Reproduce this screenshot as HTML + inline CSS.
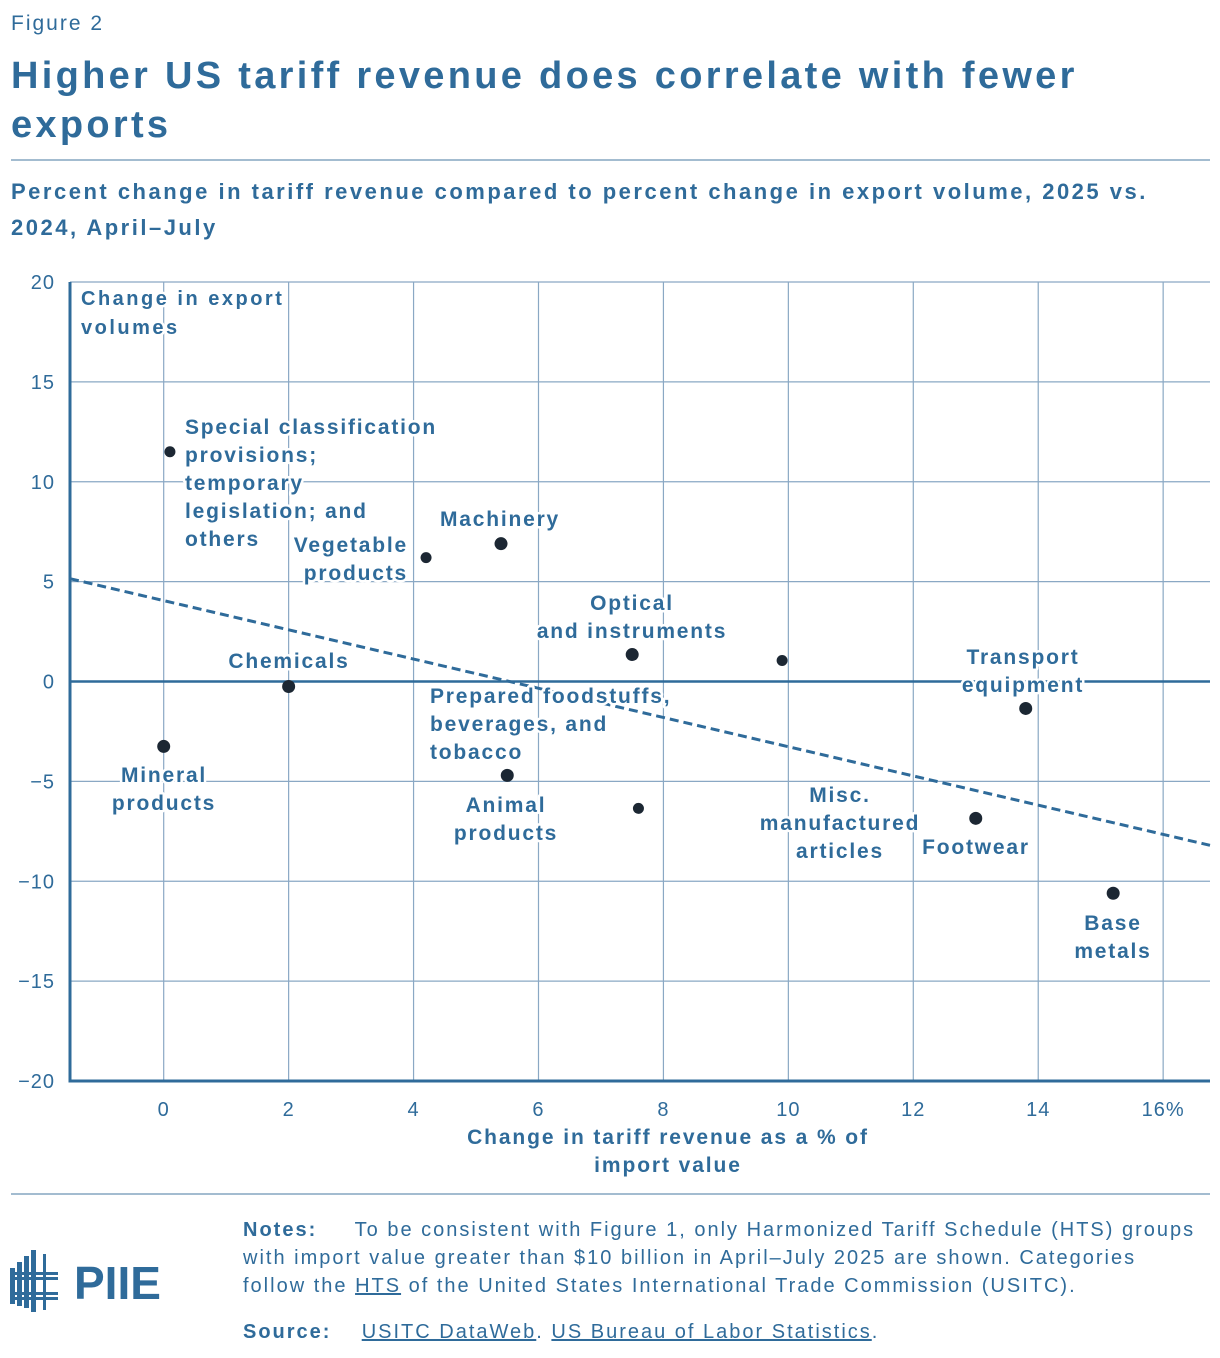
<!DOCTYPE html>
<html><head><meta charset="utf-8"><style>
body{margin:0;background:#fff;}
#root{position:relative;width:1220px;height:1358px;font-family:"Liberation Sans",sans-serif;color:#2f6b9a;overflow:hidden}
.abs{position:absolute;white-space:nowrap}
</style></head><body>
<div id="root">
<div class="abs" style="left:11px;top:12px;font-size:21px;letter-spacing:2px">Figure 2</div>
<div class="abs" style="left:11px;top:52px;font-size:38px;font-weight:bold;line-height:49px;letter-spacing:3.3px">Higher US tariff revenue does correlate with fewer<br>exports</div>
<div class="abs" style="left:11px;top:159px;width:1199px;height:2px;background:#a3bcd0"></div>
<div class="abs" style="left:11px;top:174px;font-size:22px;font-weight:bold;line-height:36px;letter-spacing:2.5px">Percent change in tariff revenue compared to percent change in export volume, 2025 vs.<br>2024, April–July</div>
<svg class="abs" style="left:0;top:0" width="1220" height="1190" id="chart"></svg>
<div class="abs" style="left:11px;top:1193px;width:1199px;height:2px;background:#a3bcd0"></div>
<svg class="abs" style="left:10px;top:1250px" width="160" height="70">
<g fill="#2f6b9a"><rect x="0" y="18" width="5" height="36"/><rect x="7" y="12" width="5" height="44"/><rect x="14" y="6" width="5" height="52"/><rect x="21" y="0" width="5" height="62"/><rect x="33" y="4" width="3" height="56"/>
<rect x="0" y="22" width="48" height="3"/><rect x="0" y="27" width="48" height="3"/><rect x="0" y="42" width="48" height="3"/><rect x="0" y="47" width="48" height="3"/></g>
<text x="64" y="49" font-size="46" font-weight="bold" fill="#2f6b9a" font-family="Liberation Sans,sans-serif">PIIE</text></svg>
<div class="abs" style="left:243px;top:1216px;font-size:20px;line-height:28px;letter-spacing:2px"><b>Notes:</b>&nbsp;&nbsp;&nbsp;&nbsp; To be consistent with Figure 1, only Harmonized Tariff Schedule (HTS) groups<br>with import value greater than $10 billion in April–July 2025 are shown. Categories<br>follow the <u>HTS</u> of the United States International Trade Commission (USITC).</div>
<div class="abs" style="left:243px;top:1321px;font-size:20px;letter-spacing:2px"><b>Source:</b>&nbsp;&nbsp;&nbsp; <u>USITC DataWeb</u>. <u>US Bureau of Labor Statistics</u>.</div>
</div>
<script>
const categories=["Special classification","Vegetable products","Machinery","Optical and instruments","Prepared foodstuffs","Transport equipment","Chemicals","Mineral products","Animal products","Misc. manufactured articles","Footwear","Base metals"];
const tariffChange=[0.1,4.2,5.4,7.5,9.9,13.8,2.0,0,5.5,7.6,13.0,15.2];
const exportChange=[11.5,6.2,6.9,1.35,1.05,-1.35,-0.25,-3.25,-4.7,-6.35,-6.85,-10.6];
const xTicks=[0,2,4,6,8,10,12,14,16];
const xTickLabels=["0","2","4","6","8","10","12","14","16%"];
const yTicks=[20,15,10,5,0,-5,-10,-15,-20];
const yTickLabels=["20","15","10","5","0","\u22125","\u221210","\u221215","\u221220"];
const trendIntercept=4.05, trendSlope=-0.7315;
const X0=-1.5,X1=16.75,PL=70,PR=1210,PT=282,PB=1081;
const sx=v=>PL+(v-X0)/(X1-X0)*(PR-PL);
const sy=v=>PB-(v+20)/40*(PB-PT);
const svg=document.getElementById('chart');const NS="http://www.w3.org/2000/svg";
function mk(t,a,p){const e=document.createElementNS(NS,t);for(const k in a)e.setAttribute(k,a[k]);(p||svg).appendChild(e);return e;}
const C="#2f6b9a",G="#8aa8c4";
xTicks.forEach((v,i)=>{const l=mk('line',{x1:sx(v),x2:sx(v),y1:PT,y2:PB,stroke:G,'stroke-width':1.2});

const t=mk('text',{x:sx(v),y:1116,'text-anchor':'middle','font-size':20,fill:C,'letter-spacing':1});t.textContent=xTickLabels[i];
});
yTicks.forEach((v,i)=>{if(v!==0&&v!==-20){const l=mk('line',{x1:PL,x2:PR,y1:sy(v),y2:sy(v),stroke:G,'stroke-width':1.2});
}
const t=mk('text',{x:55,y:sy(v)+7,'text-anchor':'end','font-size':20,fill:C,'letter-spacing':1});t.textContent=yTickLabels[i];
});
const z=mk('line',{x1:PL,x2:PR,y1:sy(0),y2:sy(0),stroke:C,'stroke-width':2.5});

const tr=mk('line',{x1:PL,y1:sy(trendIntercept+trendSlope*X0),x2:PR,y2:sy(trendIntercept+trendSlope*X1),stroke:C,'stroke-width':3,'stroke-dasharray':'9,5'});

const ax=mk('line',{x1:PL,x2:PL,y1:PT,y2:PB+1.5,stroke:C,'stroke-width':3});

const bx=mk('line',{x1:PL,x2:PR,y1:PB,y2:PB,stroke:C,'stroke-width':3});

const labels=[
[["Special classification","provisions;","temporary","legislation; and","others"],185,434,'start'],
[["Vegetable","products"],408,552,'end'],
[["Machinery"],500,526,'middle'],
[["Optical","and instruments"],632,610,'middle'],
[["Prepared foodstuffs,","beverages, and","tobacco"],430,703,'start'],
[["Transport","equipment"],1023,664,'middle'],
[["Chemicals"],289,668,'middle'],
[["Mineral","products"],164,782,'middle'],
[["Animal","products"],506,812,'middle'],
[["Misc.","manufactured","articles"],840,802,'middle'],
[["Footwear"],976,854,'middle'],
[["Base","metals"],1113,930,'middle']];
labels.forEach(([lines,x,y,a])=>{const t=mk('text',{x:x,y:y,'text-anchor':a,'font-size':21,'font-weight':'bold',fill:C,stroke:'#fff','stroke-width':5,'paint-order':'stroke','stroke-linejoin':'round','letter-spacing':1.8});

lines.forEach((s,i)=>{const sp=mk('tspan',{x:x,dy:i?28:0},t);sp.textContent=s;});});
const yt=mk('text',{x:81,y:305,'font-size':20,fill:C,stroke:'#fff','stroke-width':5,'paint-order':'stroke','letter-spacing':2.5,'font-weight':'bold'});

["Change in export","volumes"].forEach((s,i)=>{const sp=mk('tspan',{x:81,dy:i?29:0},yt);sp.textContent=s;});
categories.forEach((c,i)=>{const p=mk('circle',{cx:sx(tariffChange[i]),cy:sy(exportChange[i]),r:i==4||i==9||i==0||i==1?5.5:6.5,fill:'#1c2733'});
});
const xt=mk('text',{x:668,y:1144,'text-anchor':'middle','font-size':21,'font-weight':'bold',fill:C,'letter-spacing':1.9});

["Change in tariff revenue as a % of","import value"].forEach((s,i)=>{const sp=mk('tspan',{x:668,dy:i?28:0},xt);sp.textContent=s;});
</script>
</body></html>
